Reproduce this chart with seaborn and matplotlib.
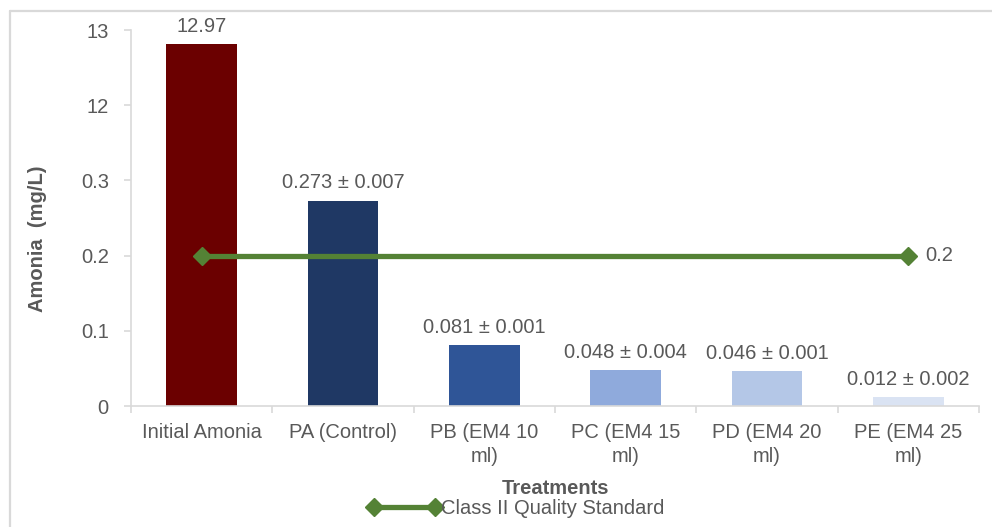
import numpy as np
import pandas as pd
import matplotlib
matplotlib.use("Agg")
import matplotlib.pyplot as plt
from matplotlib.lines import Line2D
import seaborn as sns

# ---- data ----
categories = ["Initial Amonia", "PA (Control)", "PB (EM4 10\nml)", "PC (EM4 15\nml)",
              "PD (EM4 20\nml)", "PE (EM4 25\nml)"]
values = [12.97, 0.273, 0.081, 0.048, 0.046, 0.012]
value_labels = ["12.97", "0.273 ± 0.007", "0.081 ± 0.001", "0.048 ± 0.004",
                "0.046 ± 0.001", "0.012 ± 0.002"]
bar_colors = ["#6B0000", "#1F3864", "#2F5597", "#8FAADC", "#B4C7E7", "#DAE3F3"]
standard_x = [0, 5]
standard_y = [0.2, 0.2]
standard_label = "Class II Quality Standard"
y_ticks = [0, 0.1, 0.2, 0.3, 12, 13]
y_ticklabels = ["0", "0.1", "0.2", "0.3", "12", "13"]

df = pd.DataFrame({"Treatment": categories, "Amonia": values})

# ---- broken-axis style scale (low range 0-0.3, compressed break, high range 12-13) ----
BREAKS_V = np.array([0.0, 0.3, 12.0, 12.97, 13.0, 100.0])
BREAKS_U = np.array([0.0, 0.3, 0.4, 0.481, 0.5, 9.2])

def fwd(v):
    v = np.asarray(v, dtype=float)
    return np.interp(v, BREAKS_V, BREAKS_U, left=0.0)

def inv(u):
    u = np.asarray(u, dtype=float)
    return np.interp(u, BREAKS_U, BREAKS_V, left=0.0)

sns.set_theme(style="white")
plt.rcParams["font.family"] = ["Liberation Sans", "DejaVu Sans"]
TXT = "#595959"
GRID = "#D9D9D9"
FS = 14.5

fig = plt.figure(figsize=(9.92, 5.27), dpi=100)
ax = fig.add_axes([131 / 992, 1 - 406 / 527, (979 - 131) / 992, (406 - 30) / 527])

sns.barplot(data=df, x="Treatment", y="Amonia", hue="Treatment", palette=bar_colors,
            width=0.5, legend=False, ax=ax, saturation=1, edgecolor="none")
ax.set_yscale("function", functions=(fwd, inv))
ax.set_ylim(0, 13)
ax.set_xlim(-0.5, len(categories) - 0.5)
ax.set_yticks(y_ticks)
ax.set_yticklabels(y_ticklabels)

# standard line
ax.plot(standard_x, standard_y, color="#548235", lw=3.8, marker="D", ms=9,
        label=standard_label, zorder=5)
ax.text(standard_x[-1] + 0.12, standard_y[-1], "0.2", color=TXT, fontsize=FS,
        va="center", ha="left")

# value labels
for i, (v, lab) in enumerate(zip(values, value_labels)):
    ax.annotate(lab, (i, v), xytext=(0, 6), textcoords="offset points",
                ha="center", va="bottom", color=TXT, fontsize=FS)

# spines and ticks
for s in ["top", "right"]:
    ax.spines[s].set_visible(False)
for s in ["left", "bottom"]:
    ax.spines[s].set_color(GRID)
    ax.spines[s].set_linewidth(1.2)
ax.tick_params(axis="y", which="major", length=5, width=1.2, color=GRID,
               labelsize=FS, labelcolor=TXT, pad=11, left=True)
ax.set_xticks(np.arange(-0.5, len(categories), 1.0), minor=True)
ax.tick_params(axis="x", which="minor", length=5, width=1.2, color=GRID, bottom=True)
ax.tick_params(axis="x", which="major", length=0, labelsize=FS, labelcolor=TXT, pad=12)
plt.setp(ax.get_xticklabels(), linespacing=1.35)
ax.grid(False)

ax.set_ylabel("Amonia  (mg/L)", fontsize=FS, fontweight="bold", color=TXT)
ax.yaxis.set_label_coords((47 - 131) / 848, (406 - 239) / 376)
ax.set_xlabel("Treatments", fontsize=FS, fontweight="bold", color=TXT)
ax.xaxis.set_label_coords(0.5, (406 - 479) / 376)

fig.legend(handles=[Line2D([0], [0], color="#548235", lw=3.8, marker="D", ms=9)],
           labels=[standard_label], loc="center", bbox_to_anchor=(516 / 992, 1 - 509 / 527),
           frameon=False, fontsize=FS, labelcolor=TXT, handlelength=3.6, numpoints=2,
           handletextpad=0.0, borderpad=0)

# chart area border (partially cropped)
fig.add_artist(Line2D([9.5 / 992, 9.5 / 992], [0, 1 - 10.5 / 527], transform=fig.transFigure,
                      color=GRID, lw=1.6))
fig.add_artist(Line2D([9.5 / 992, 1], [1 - 10.5 / 527, 1 - 10.5 / 527],
                      transform=fig.transFigure, color=GRID, lw=1.6))

fig.savefig("out.png", dpi=100)
